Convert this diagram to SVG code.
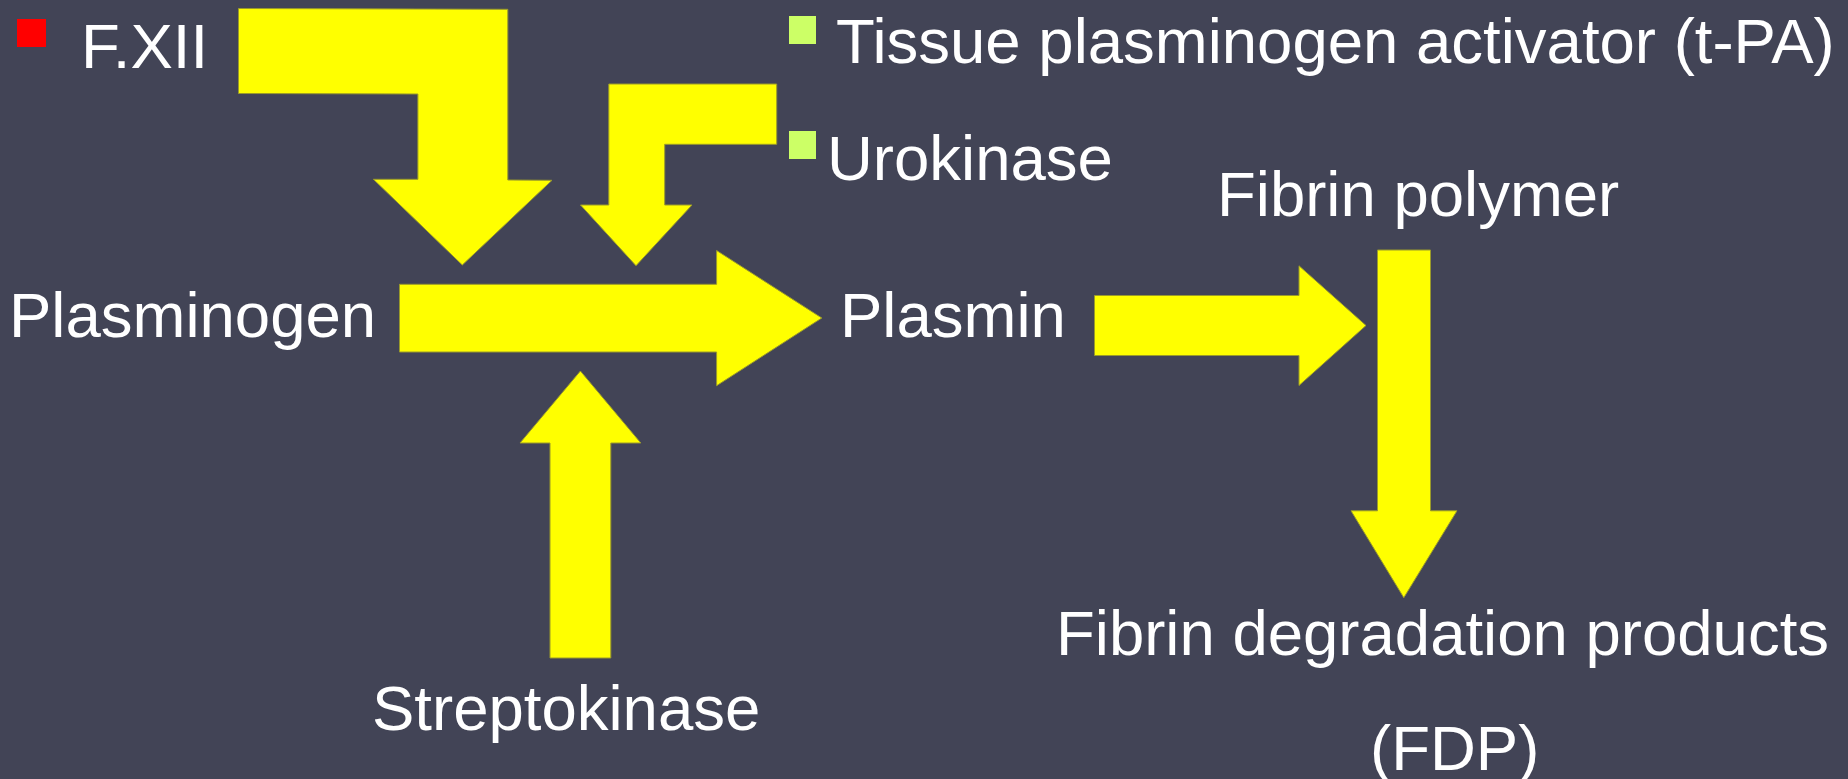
<svg xmlns="http://www.w3.org/2000/svg" width="1848" height="779" viewBox="0 0 1848 779">
<style>
.t{font-family:"Liberation Sans",Arial,sans-serif;font-size:63.5px;fill:#ffffff}
.a{fill:#ffff00;stroke:#9a9a2a;stroke-width:1}
</style>
<rect x="0" y="0" width="1848" height="779" fill="#424456"/>
<g id="fxii">
<rect x="17" y="19" width="29" height="28" fill="#ff0000"/>
<text class="t" x="81" y="68">F.XII</text>
</g>
<g id="tpa">
<rect x="789" y="16" width="27" height="28" fill="#ccff66"/>
<text class="t" x="836" y="63">Tissue plasminogen activator (t-PA)</text>
</g>
<g id="urokinase">
<rect x="789" y="131" width="27" height="28" fill="#ccff66"/>
<text class="t" x="827" y="180">Urokinase</text>
</g>
<g id="plasminogen"><text class="t" x="9" y="337">Plasminogen</text></g>
<g id="plasmin"><text class="t" x="840" y="337">Plasmin</text></g>
<g id="fibrin-polymer"><text class="t" x="1217" y="216">Fibrin polymer</text></g>
<g id="streptokinase"><text class="t" x="372" y="730">Streptokinase</text></g>
<g id="fdp">
<text class="t" x="1056" y="655">Fibrin degradation products</text>
<text class="t" x="1370" y="770">(FDP)</text>
</g>
<g id="connectors">
<polygon class="a" points="238.5,8.5 507.8,9.3 507.8,180 552,180.3 462.3,265 373.4,179.3 417.9,179.3 417.9,94 238.5,93.5"/>
<polygon class="a" points="608.8,84 776.7,84 776.7,144.3 664.7,144.3 664.7,205 692,205 636,265.7 580.5,205 608.8,205"/>
<polygon class="a" points="399.5,284.3 716.6,284.3 716.6,250.5 821.8,318 716.6,385.7 716.6,352 399.5,352"/>
<polygon class="a" points="580.4,371 640.8,443 610.8,443 610.8,658 550,658 550,443 520,443"/>
<polygon class="a" points="1094.5,295.5 1299,295.5 1299,265.8 1366,325.5 1299,385.5 1299,355.5 1094.5,355.5"/>
<polygon class="a" points="1377.5,250 1430.5,250 1430.5,510.8 1457,510.8 1403.8,597.7 1351,510.8 1377.5,510.8"/>
</g>
</svg>
